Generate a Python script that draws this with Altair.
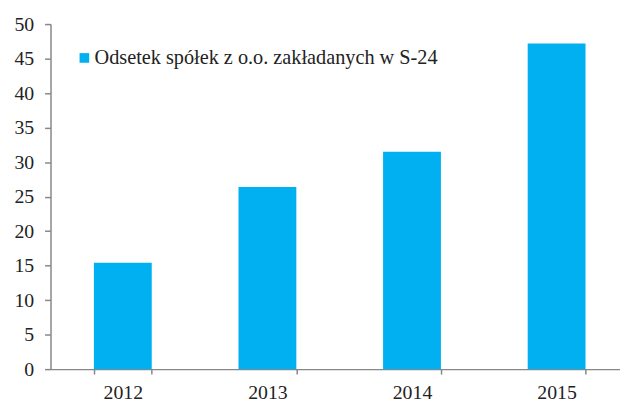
import altair as alt
import pandas as pd

years = ["2012", "2013", "2014", "2015"]
values = [15.4, 26.4, 31.5, 47.2]
series = "Odsetek spółek z o.o. zakładanych w S-24"

df = pd.DataFrame({"year": years, "value": values, "series": [series] * 4})

FONT = "Liberation Serif"
AXIS_COLOR = "#878787"

chart = alt.Chart(df).mark_bar(color="#00B0F0").encode(
    x=alt.X("year:N", title=None,
            scale=alt.Scale(paddingInner=0.6, paddingOuter=0.3),
            axis=alt.Axis(labelAngle=0, tickBand="extent", tickSize=5,
                          labelPadding=9, domainColor=AXIS_COLOR, tickColor=AXIS_COLOR,
                          domainWidth=1.5, tickWidth=1.5)),
    y=alt.Y("value:Q", title=None,
            scale=alt.Scale(domain=[0, 50], nice=False),
            axis=alt.Axis(values=list(range(0, 51, 5)), tickSize=6, grid=False,
                          labelPadding=11, domainColor=AXIS_COLOR, tickColor=AXIS_COLOR,
                          domainWidth=1.5, tickWidth=1.5)),
    color=alt.Color("series:N", scale=alt.Scale(range=["#00B0F0"]),
                    legend=alt.Legend(title=None, orient="none", legendX=24, legendY=24,
                                      symbolType="square", symbolSize=95,
                                      symbolStrokeWidth=0,
                                      labelLimit=600, labelOffset=0, padding=0)),
).properties(
    width=585, height=349,
    autosize=alt.AutoSizeParams(type="none"),
    padding={"left": 43, "top": 14, "right": -9, "bottom": 32},
).configure_axis(
    labelFont=FONT, labelFontSize=20, labelColor="#222222"
).configure_legend(
    labelFont=FONT, labelFontSize=20.5, labelColor="#222222"
).configure_view(stroke=None)

chart.save("out.html", embed_options={"renderer": "svg", "actions": False})
